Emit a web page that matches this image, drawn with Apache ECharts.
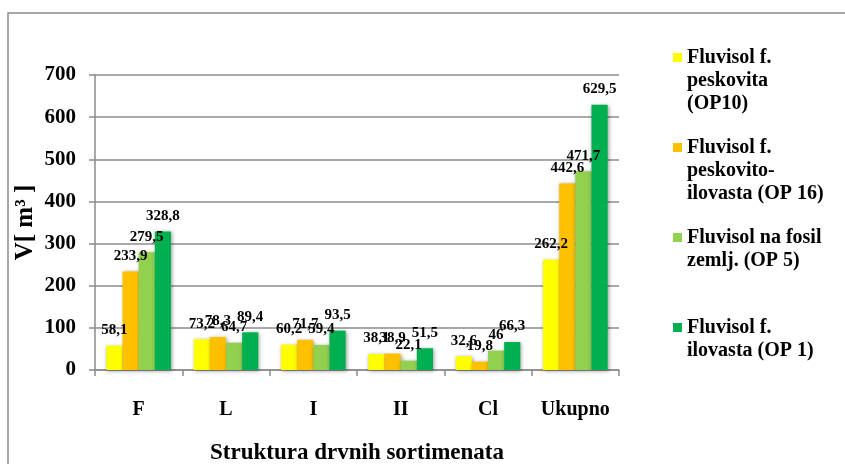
<!DOCTYPE html>
<html lang="sr">
<head>
    <meta charset="utf-8">
    <title>Struktura drvnih sortimenata</title>
    <script src="https://cdn.jsdelivr.net/npm/echarts@6/dist/echarts.min.js"></script>
    <style type="text/css">
        html, body { margin: 0; padding: 0; background: #fff; }
        #container { width: 845px; height: 464px; }
    </style>
</head>
<body>
<div id="container"></div>
<script>
    // kategorije i vrijednosti (V u m3)
    var kategorije = ['F', 'L', 'I', 'II', 'Cl', 'Ukupno'];
    var op10 = [58.1, 73.2, 60.2, 38.1, 32.6, 262.2];
    var op16 = [233.9, 78.3, 71.7, 38.9, 19.8, 442.6];
    var op5 = [279.5, 64.7, 59.4, 22.1, 46, 471.7];
    var op1 = [328.8, 89.4, 93.5, 51.5, 66.3, 629.5];
    var nazivi = ['Fluvisol f. peskovita (OP10)', 'Fluvisol f. peskovito-ilovasta (OP 16)',
        'Fluvisol na fosil zemlj. (OP 5)', 'Fluvisol f. ilovasta (OP 1)'];
    var legendaTekst = {
        'Fluvisol f. peskovita (OP10)': 'Fluvisol f.\npeskovita\n(OP10)',
        'Fluvisol f. peskovito-ilovasta (OP 16)': 'Fluvisol f.\npeskovito-\nilovasta (OP 16)',
        'Fluvisol na fosil zemlj. (OP 5)': 'Fluvisol na fosil\nzemlj. (OP 5)\n ',
        'Fluvisol f. ilovasta (OP 1)': 'Fluvisol f.\nilovasta (OP 1)\n '
    };
    var boje = ['#FFFF00', '#FFC000', '#92D050', '#00B050'];

    var font = '"Liberation Serif", "Times New Roman", serif';
    var dom = document.getElementById("container");
    var myChart = echarts.init(dom);

    function serija(ime, podaci, boja) {
        return {
            name: ime,
            type: 'bar',
            data: podaci,
            barGap: '0%',
            barCategoryGap: '26%',
            itemStyle: {
                color: boja,
                shadowBlur: 4,
                shadowColor: 'rgba(0,0,0,0.4)',
                shadowOffsetX: 1,
                shadowOffsetY: 1
            },
            label: {
                show: true,
                position: 'top',
                distance: 8,
                fontFamily: font,
                fontWeight: 'bold',
                fontSize: 15,
                color: '#000',
                formatter: function (p) { return String(p.value).replace('.', ','); }
            }
        };
    }

    var option = {
        animation: false,
        textStyle: { fontFamily: font },
        graphic: [{
            type: 'rect',
            shape: { x: 8, y: 13, width: 900, height: 500 },
            style: { fill: 'none', stroke: '#8c8c8c', lineWidth: 1.5 },
            silent: true
        }],
        legend: {
            orient: 'vertical',
            left: 673,
            top: 46,
            padding: 0,
            itemGap: 21,
            itemWidth: 9,
            itemHeight: 69,
            icon: 'path://M0,7L9,7L9,16L0,16Z M0,0 M0,69',
            data: nazivi,
            formatter: function (name) { return legendaTekst[name]; },
            textStyle: {
                fontFamily: font,
                fontWeight: 'bold',
                fontSize: 20,
                lineHeight: 23,
                color: '#000'
            }
        },
        grid: { left: 95, right: 226, top: 75, bottom: 94, containLabel: false, outerBoundsMode: 'none' },
        xAxis: {
            type: 'category',
            data: kategorije,
            name: 'Struktura drvnih sortimenata',
            nameLocation: 'middle',
            nameGap: 72,
            nameTextStyle: { fontFamily: font, fontWeight: 'bold', fontSize: 23, color: '#000' },
            axisLine: { lineStyle: { color: '#8c8c8c', width: 1.5 } },
            axisTick: { show: true, length: 6, lineStyle: { color: '#8c8c8c', width: 1.5 } },
            axisLabel: { interval: 0, margin: 30, fontFamily: font, fontWeight: 'bold', fontSize: 20, color: '#000' }
        },
        yAxis: {
            type: 'value',
            min: 0,
            max: 700,
            interval: 100,
            name: 'V[ m³ ]',
            nameLocation: 'middle',
            nameGap: 57,
            nameMoveOverlap: false,
            nameTextStyle: { fontFamily: font, fontWeight: 'bold', fontSize: 25, color: '#000' },
            axisLine: { show: true, lineStyle: { color: '#8c8c8c', width: 1.5 } },
            axisTick: { show: true, length: 6, lineStyle: { color: '#8c8c8c', width: 1.5 } },
            axisLabel: { margin: 19, fontFamily: font, fontWeight: 'bold', fontSize: 21, color: '#000' },
            splitLine: { lineStyle: { color: '#8c8c8c', width: 1.5 } }
        },
        series: [
            serija(nazivi[0], op10, boje[0]),
            serija(nazivi[1], op16, boje[1]),
            serija(nazivi[2], op5, boje[2]),
            serija(nazivi[3], op1, boje[3])
        ]
    };
    myChart.setOption(option, true);
</script>
</body>
</html>
